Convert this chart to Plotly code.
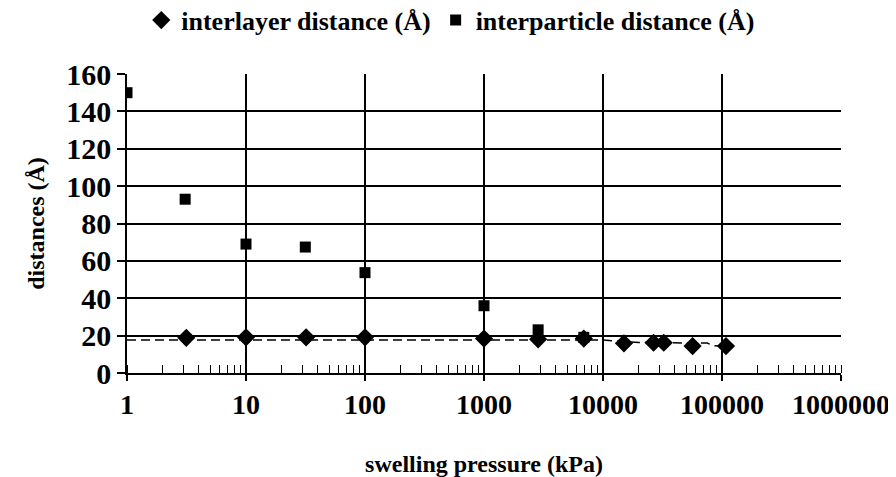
import plotly.graph_objects as go

# swelling pressure (kPa) and distances
layer_p = [3.15, 10, 32, 100, 1000, 2850, 6900, 15000, 26600, 32400, 56600, 108000]
layer_d = [18.8, 19.1, 19.1, 19.1, 18.4, 18.0, 18.4, 15.9, 16.2, 16.2, 14.4, 14.4]

particle_p = [1, 3.08, 10, 31.5, 100, 1000, 2850, 6900]
particle_d = [150, 93, 69, 67.4, 53.7, 36, 23.1, 19.1]

trend_p = [1, 10000, 20000, 40000, 60000, 75000, 85000, 108000]
trend_d = [17.7, 17.6, 16.3, 16.1, 15.9, 16.0, 14.6, 14.4]

font = "Liberation Serif"

fig = go.Figure()
fig.add_trace(go.Scatter(x=trend_p, y=trend_d, mode="lines", showlegend=False,
                         line=dict(color="black", width=1.5, dash="9px,5px")))
fig.add_trace(go.Scatter(x=layer_p, y=layer_d, mode="markers", name="<b>interlayer distance (Å)</b>",
                         marker=dict(symbol="diamond", size=14, color="black")))
fig.add_trace(go.Scatter(x=particle_p, y=particle_d, mode="markers", name="<b>interparticle distance (Å)</b>",
                         marker=dict(symbol="square", size=11, color="black")))

# the page body adds an 8px offset, so the figure is 8px smaller than the window
fig.update_layout(
    width=888, height=469,
    margin=dict(l=119, r=55, t=66, b=104, autoexpand=False),
    paper_bgcolor="white", plot_bgcolor="white",
    font=dict(family=font, color="black"),
    showlegend=True,
    legend=dict(orientation="h", x=0.02, xanchor="left", y=1.18, yanchor="middle",
                font=dict(family=font, size=26, color="black"), itemwidth=30,
                tracegroupgap=0, bgcolor="rgba(0,0,0,0)"),
)
fig.update_xaxes(
    type="log", range=[0, 6], dtick=1, tickformat="d",
    tickprefix="<b>", ticksuffix="</b>",
    showgrid=True, gridcolor="black", gridwidth=1.5,
    showline=True, linecolor="black", linewidth=1.5,
    ticks="outside", ticklen=6, tickcolor="black", tickwidth=1.5,
    tickfont=dict(family=font, size=28, color="black"),
    title=dict(text="<b>swelling pressure (kPa)</b>", font=dict(family=font, size=24), standoff=38),
    minor=dict(ticks="inside", ticklen=8, tickcolor="black", tickwidth=1, showgrid=False),
    zeroline=False, automargin=False,
)
fig.update_yaxes(
    range=[0, 160], dtick=20,
    tickprefix="<b>", ticksuffix="</b>",
    showgrid=True, gridcolor="black", gridwidth=1.5,
    showline=True, linecolor="black", linewidth=1.5,
    ticks="outside", ticklen=8, tickcolor="black", tickwidth=1.5,
    tickfont=dict(family=font, size=30, color="black"),
    title=dict(text="<b>distances (Å)</b>", font=dict(family=font, size=24), standoff=15),
    zeroline=False, automargin=False,
)

fig.write_html("out.html")
